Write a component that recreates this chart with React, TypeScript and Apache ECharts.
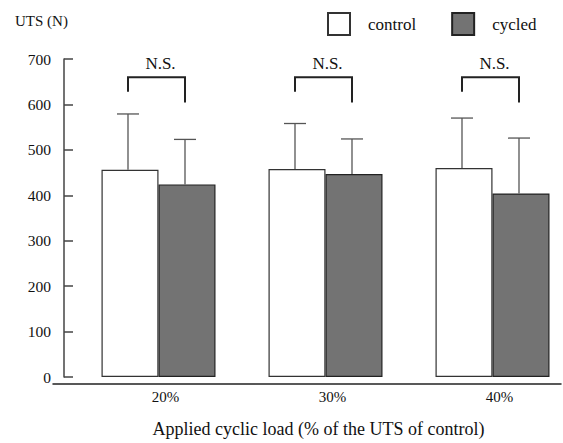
import React, { useEffect, useRef } from "react";
import * as echarts from "echarts";

const categories = ["20%", "30%", "40%"];
const controlMean = [456, 458, 460];
const controlUpper = [579, 558, 570];
const cycledMean = [424, 447, 404];
const cycledUpper = [523, 524, 526];
const nsLabels = ["N.S.", "N.S.", "N.S."];
const bracketTop = [660, 660, 660];
const bracketLeftEnd = [628, 628, 628];
const bracketRightEnd = [604, 604, 604];
const bracketTextAt = [690, 690, 690];

const FONT = '"Liberation Serif", "Times New Roman", serif';
const BAR_W = 57;
const INNER_W = 590;

export default function App() {
  const ref = useRef<HTMLDivElement>(null);
  useEffect(() => {
    if (!ref.current) return;
    const chart = echarts.init(ref.current, undefined, { renderer: "svg" });
    const errData = categories.map((_, i) => [i, controlMean[i], controlUpper[i], cycledMean[i], cycledUpper[i]]);
    const nsData = categories.map((_, i) => [i, bracketTop[i], bracketLeftEnd[i], bracketRightEnd[i], bracketTextAt[i]]);
    chart.setOption({
      animation: false,
      backgroundColor: "#fff",
      title: {
        text: "UTS (N)",
        left: 10,
        top: 8,
        textStyle: { fontFamily: FONT, fontSize: 15, fontWeight: "normal", color: "#111" },
      },
      legend: {
        left: 322,
        top: 7,
        itemWidth: 22,
        itemHeight: 22,
        itemGap: 35,
        data: ["control", "cycled"],
        icon: "rect",
        textStyle: { fontFamily: FONT, fontSize: 17, color: "#111", padding: [0, 0, 0, 13] },
      },
      grid: [
        { left: 75, right: INNER_W - 576, top: 59, bottom: 59 },
        { left: 53, right: INNER_W - 561, top: 59, bottom: 59 },
      ],
      xAxis: [
        {
          type: "category",
          gridIndex: 0,
          data: categories,
          axisLine: { show: false },
          axisTick: { show: false },
          axisLabel: { fontFamily: FONT, fontSize: 15, color: "#111", margin: 12, padding: [0, 0, 0, 14] },
          name: "Applied cyclic load (% of the UTS of control)",
          nameLocation: "middle",
          nameGap: 43,
          nameTextStyle: { fontFamily: FONT, fontSize: 18, color: "#111", padding: [0, 14, 0, 0] },
        },
        {
          type: "value",
          gridIndex: 1,
          min: 0,
          max: 1,
          axisLine: { show: true, lineStyle: { color: "#222", width: 1.5 } },
          axisTick: { show: false },
          axisLabel: { show: false },
          splitLine: { show: false },
        },
      ],
      yAxis: [
        {
          type: "value",
          gridIndex: 0,
          min: 0,
          max: 700,
          interval: 100,
          offset: 11,
          axisLine: { show: true, lineStyle: { color: "#444", width: 1.5 } },
          axisTick: { show: true, inside: true, length: 9, lineStyle: { color: "#444", width: 1.5 } },
          axisLabel: { fontFamily: FONT, fontSize: 15.5, color: "#111", margin: 13 },
          splitLine: { show: false },
        },
        { type: "value", gridIndex: 1, min: 0, max: 700, show: false },
      ],
      series: [
        {
          name: "control",
          type: "bar",
          xAxisIndex: 0,
          yAxisIndex: 0,
          data: controlMean,
          barWidth: BAR_W,
          barGap: "0%",
          itemStyle: { color: "#ffffff", borderColor: "#333", borderWidth: 1.2 },
        },
        {
          name: "cycled",
          type: "bar",
          xAxisIndex: 0,
          yAxisIndex: 0,
          data: cycledMean,
          barWidth: BAR_W,
          barGap: "0%",
          itemStyle: { color: "#737373", borderColor: "#222", borderWidth: 1.2 },
        },
        {
          name: "error",
          type: "custom",
          xAxisIndex: 0,
          yAxisIndex: 0,
          data: errData,
          encode: { x: 0, y: [1, 2, 3, 4] },
          z: 3,
          renderItem: (params: any, api: any) => {
            const i = api.value(0);
            const cx = api.coord([i, 0])[0];
            const items: any[] = [];
            const pairs = [
              [cx - BAR_W / 2 - 2, api.value(1), api.value(2)],
              [cx + BAR_W / 2 - 2, api.value(3), api.value(4)],
            ];
            const st = { stroke: "#555", lineWidth: 1.3 };
            pairs.forEach(([x, m, u]) => {
              const yM = api.coord([i, m])[1];
              const yU = api.coord([i, u])[1];
              items.push({ type: "line", shape: { x1: x, y1: yM, x2: x, y2: yU }, style: st });
              items.push({ type: "line", shape: { x1: x - 11, y1: yU, x2: x + 11, y2: yU }, style: st });
            });
            return { type: "group", children: items };
          },
        },
        {
          name: "ns",
          type: "custom",
          xAxisIndex: 0,
          yAxisIndex: 0,
          data: nsData,
          encode: { x: 0, y: [1, 2, 3, 4] },
          z: 3,
          renderItem: (params: any, api: any) => {
            const i = api.value(0);
            const cx = api.coord([i, 0])[0];
            const xl = cx - BAR_W / 2 - 2;
            const xr = cx + BAR_W / 2 - 2;
            const yT = api.coord([i, api.value(1)])[1];
            const yL = api.coord([i, api.value(2)])[1];
            const yR = api.coord([i, api.value(3)])[1];
            const yTx = api.coord([i, api.value(4)])[1];
            return {
              type: "group",
              children: [
                {
                  type: "polyline",
                  shape: { points: [[xl, yL], [xl, yT], [xr, yT], [xr, yR]] },
                  style: { stroke: "#222", lineWidth: 2, fill: "none" },
                },
                {
                  type: "text",
                  x: (xl + xr) / 2 + 4,
                  y: yTx,
                  style: {
                    text: nsLabels[i],
                    fontFamily: FONT,
                    fontSize: 17,
                    fill: "#111",
                    align: "center",
                    verticalAlign: "middle",
                  },
                },
              ],
            };
          },
        },
      ],
    });
    return () => chart.dispose();
  }, []);
  return (
    <div style={{ position: "absolute", left: 0, top: 0, width: 563, height: 443, overflow: "hidden" }}>
      <div ref={ref} style={{ width: INNER_W, height: 443 }} />
    </div>
  );
}
